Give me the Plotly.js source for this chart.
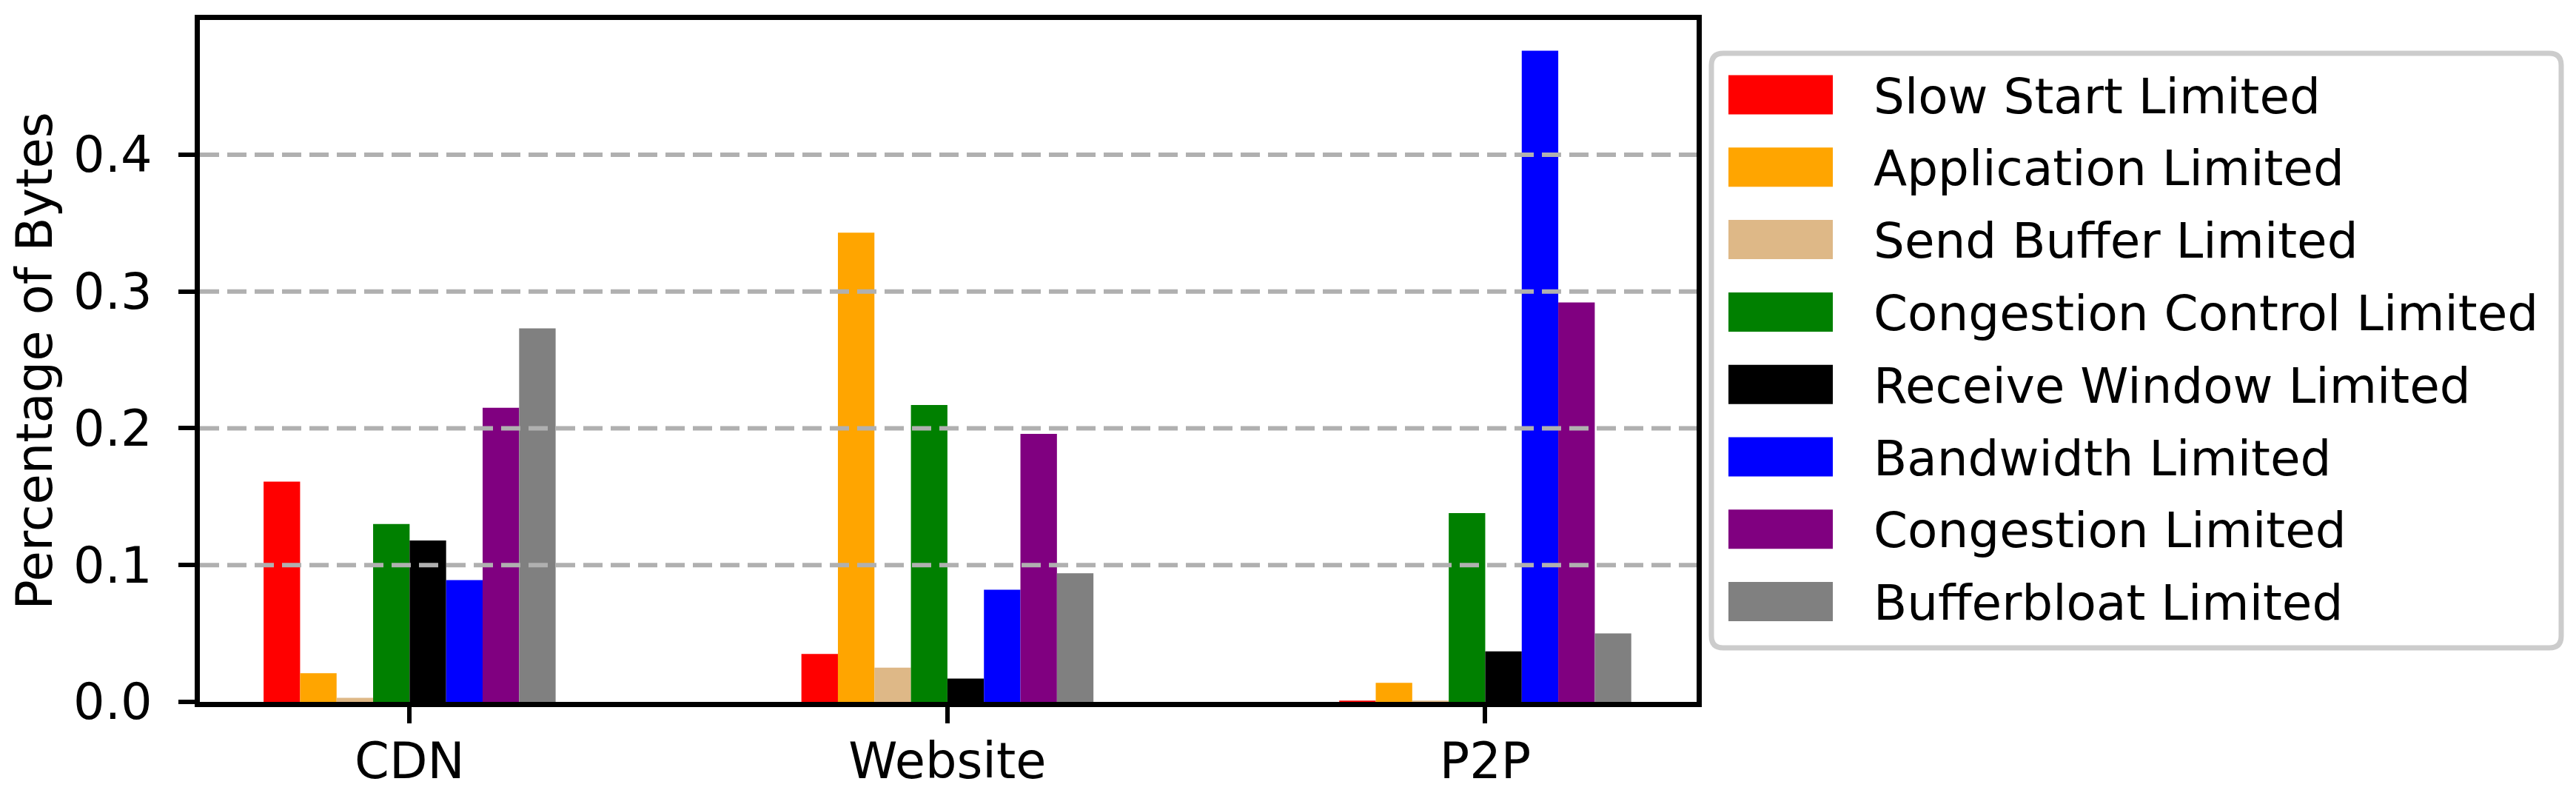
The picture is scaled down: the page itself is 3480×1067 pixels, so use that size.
<!DOCTYPE html>
<html><head><meta charset="utf-8">
<script src="https://cdn.plot.ly/plotly-3.0.1.min.js"></script>
<style>html,body{margin:0;padding:0;background:#fff;}</style>
</head><body><div id="chart" style="width:3480px;height:1067px;"></div>
<script>
// ---- data ----
const categories = ['CDN', 'Website', 'P2P'];
const seriesNames = ['Slow Start Limited', 'Application Limited', 'Send Buffer Limited',
  'Congestion Control Limited', 'Receive Window Limited', 'Bandwidth Limited',
  'Congestion Limited', 'Bufferbloat Limited'];
const seriesColors = ['#ff0000', '#ffa500', '#deb887', '#008000', '#000000', '#0000ff', '#800080', '#808080'];
const slowStartLimited       = [0.161, 0.035, 0.001];
const applicationLimited     = [0.021, 0.343, 0.014];
const sendBufferLimited      = [0.003, 0.025, 0.001];
const congestionCtrlLimited  = [0.130, 0.217, 0.138];
const receiveWindowLimited   = [0.118, 0.017, 0.037];
const bandwidthLimited       = [0.089, 0.082, 0.476];
const congestionLimited      = [0.215, 0.196, 0.292];
const bufferbloatLimited     = [0.273, 0.094, 0.050];
const seriesValues = [slowStartLimited, applicationLimited, sendBufferLimited, congestionCtrlLimited,
  receiveWindowLimited, bandwidthLimited, congestionLimited, bufferbloatLimited];
const yTickVals = [0, 0.1, 0.2, 0.3, 0.4];
const yTickText = ['0.0', '0.1', '0.2', '0.3', '0.4'];
const gridVals = [0.1, 0.2, 0.3, 0.4];
const yTitle = 'Percentage of Bytes';

// ---- geometry ----
const W = 3480, H = 1067;
const PL = 270, PR = 2292, PT = 27, PB = 948;
const FONT = 'DejaVu Sans';
const FS = 67;
const LFS = 66;
const px2x = p => (p - PL) / (PR - PL);
const px2y = p => (PB - p) / (PB - PT);

const traces = seriesNames.map((name, i) => ({
  type: 'bar', name: name, x: categories, y: seriesValues[i],
  marker: {color: seriesColors[i], line: {width: 0}}, showlegend: false,
  hoverinfo: 'x+y+name'
}));

const shapes = [];
// dashed grid lines drawn above bars (as in reference)
gridVals.forEach(v => shapes.push({
  type: 'line', xref: 'paper', yref: 'y', x0: 0, x1: 1, y0: v, y1: v,
  line: {color: '#b0b0b0', width: 6, dash: '26px,11px'}, layer: 'above'
}));

// legend frame (rounded rectangle)
const LX0 = 2312, LX1 = 3460, LY0 = 72, LY1 = 875, R = 16;
const P = (x, y) => px2x(x).toFixed(5) + ',' + px2y(y).toFixed(5);
const path = 'M' + P(LX0 + R, LY0) + ' L' + P(LX1 - R, LY0) + ' Q' + P(LX1, LY0) + ' ' + P(LX1, LY0 + R) +
  ' L' + P(LX1, LY1 - R) + ' Q' + P(LX1, LY1) + ' ' + P(LX1 - R, LY1) +
  ' L' + P(LX0 + R, LY1) + ' Q' + P(LX0, LY1) + ' ' + P(LX0, LY1 - R) +
  ' L' + P(LX0, LY0 + R) + ' Q' + P(LX0, LY0) + ' ' + P(LX0 + R, LY0) + ' Z';
shapes.push({type: 'path', xref: 'paper', yref: 'paper', path: path,
  fillcolor: 'rgba(255,255,255,0.8)', line: {color: '#cccccc', width: 7}, layer: 'above'});

const annotations = [];
const ROW0 = 128, PITCH = 97.8, SW0 = 2335, SW1 = 2476, SH = 53, TX = 2529;
seriesNames.forEach((name, i) => {
  const cy = ROW0 + i * PITCH;
  shapes.push({type: 'rect', xref: 'paper', yref: 'paper',
    x0: px2x(SW0), x1: px2x(SW1), y0: px2y(cy - SH / 2), y1: px2y(cy + SH / 2),
    fillcolor: seriesColors[i], line: {width: 0}, layer: 'above'});
  annotations.push({xref: 'paper', yref: 'paper', x: px2x(TX), y: px2y(cy + 2),
    xanchor: 'left', yanchor: 'middle', showarrow: false, text: name,
    font: {family: FONT, size: LFS, color: '#000'}});
});

const layout = {
  width: W, height: H,
  margin: {l: PL, r: W - PR, t: PT, b: H - PB, pad: 0},
  paper_bgcolor: '#fff', plot_bgcolor: '#fff',
  font: {family: FONT, size: FS, color: '#000'},
  barmode: 'group', bargap: 0.457, bargroupgap: 0,
  xaxis: {
    range: [-0.39, 2.393], showgrid: false, zeroline: false,
    showline: true, mirror: true, linecolor: '#000', linewidth: 7,
    ticks: 'outside', ticklen: 22, tickwidth: 6, tickcolor: '#000',
    ticklabelstandoff: -6,
    tickfont: {family: FONT, size: FS, color: '#000'}, automargin: false
  },
  yaxis: {
    range: [0, 0.4985], showgrid: false, zeroline: false,
    showline: true, mirror: true, linecolor: '#000', linewidth: 7,
    ticks: 'outside', ticklen: 22, tickwidth: 6, tickcolor: '#000',
    ticklabelstandoff: 22,
    tickvals: yTickVals, ticktext: yTickText,
    tickfont: {family: FONT, size: FS, color: '#000'}, automargin: false,
    title: {text: yTitle, font: {family: FONT, size: FS, color: '#000'}, standoff: 9}
  },
  shapes: shapes, annotations: annotations, showlegend: false
};

Plotly.newPlot('chart', traces, layout, {displayModeBar: false, staticPlot: true});
</script></body></html>
